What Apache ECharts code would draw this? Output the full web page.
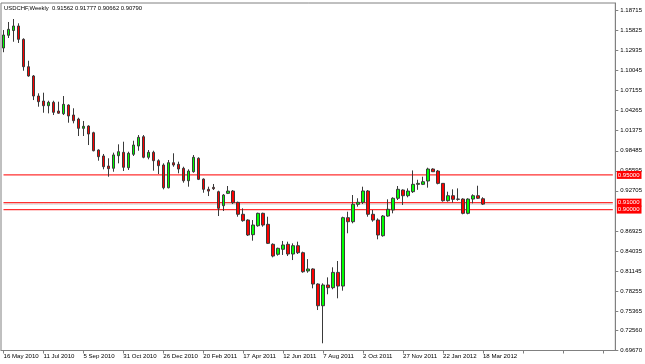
<!DOCTYPE html>
<html>
<head>
<meta charset="utf-8">
<script src="https://cdn.jsdelivr.net/npm/echarts@6/dist/echarts.min.js"></script>
<style>html,body{margin:0;padding:0;background:#fff}#c{width:645px;height:364px}</style>
</head>
<body>
<div id="c"></div>
<script>
const symbolTitle = 'USDCHF,Weekly  0.91562 0.91777 0.90662 0.90790';
const firstWeek = '2010-05-16';
const opens = [1.1331,1.1514,1.1583,1.1648,1.1456,1.1061,1.0927,1.0638,1.0566,1.0498,1.0547,1.0422,1.0383,1.0508,1.0364,1.0306,1.0172,1.0205,1.0109,0.9859,0.9773,0.9628,0.9596,0.9777,0.9826,0.9604,0.9797,0.9917,1.0051,0.9754,0.9826,0.9705,0.9643,0.9315,0.9676,0.9653,0.9595,0.9416,0.9546,0.9740,0.9440,0.9292,0.9320,0.9258,0.9056,0.9234,0.9267,0.9104,0.8932,0.8849,0.8638,0.8767,0.8946,0.8787,0.8499,0.8355,0.8427,0.8499,0.8359,0.8479,0.8378,0.8114,0.8143,0.7926,0.7613,0.7912,0.7873,0.8094,0.7897,0.8883,0.8825,0.9076,0.9105,0.9268,0.8932,0.8849,0.8623,0.8907,0.8994,0.9163,0.9282,0.9200,0.9258,0.9364,0.9364,0.9412,0.9585,0.9556,0.9378,0.9128,0.9200,0.9152,0.9152,0.8946,0.9152,0.9200,0.91562];
const highs = [1.1590,1.1706,1.1749,1.1687,1.1471,1.1147,1.0941,1.0677,1.0686,1.0570,1.0570,1.0556,1.0638,1.0518,1.0461,1.0325,1.0278,1.0215,1.0123,0.9869,0.9802,0.9740,0.9821,0.9941,0.9979,0.9835,0.9993,1.0075,1.0075,0.9859,0.9849,0.9725,0.9667,0.9715,0.9812,0.9691,0.9618,0.9581,0.9787,0.9754,0.9450,0.9330,0.9369,0.9272,0.9224,0.9340,0.9282,0.9114,0.9018,0.8859,0.8849,0.8955,0.8955,0.8897,0.8513,0.8450,0.8547,0.8537,0.8513,0.8537,0.8393,0.8286,0.8153,0.7936,0.7936,0.8022,0.8167,0.8258,0.8897,0.8969,0.9210,0.9163,0.9330,0.9282,0.8994,0.8873,0.8921,0.9148,0.9177,0.9340,0.9292,0.9306,0.9565,0.9430,0.9474,0.9604,0.9595,0.9571,0.9378,0.9258,0.9292,0.9306,0.9163,0.9163,0.9220,0.9344,0.91777];
const lows = [1.1270,1.1475,1.1421,1.1403,1.1003,1.0917,1.0580,1.0484,1.0397,1.0388,1.0364,1.0383,1.0364,1.0253,1.0244,1.0061,1.0061,0.9931,0.9840,0.9705,0.9581,0.9474,0.9546,0.9667,0.9556,0.9571,0.9773,0.9849,0.9740,0.9725,0.9561,0.9513,0.9292,0.9306,0.9618,0.9523,0.9388,0.9330,0.9532,0.9426,0.9243,0.9195,0.9282,0.8907,0.8979,0.9224,0.9080,0.8897,0.8825,0.8619,0.8551,0.8753,0.8753,0.8503,0.8311,0.8335,0.8345,0.8330,0.8272,0.8359,0.8089,0.8089,0.7864,0.7551,0.7071,0.7778,0.7850,0.7720,0.7830,0.8658,0.8802,0.9042,0.9080,0.8897,0.8825,0.8571,0.8609,0.8897,0.8946,0.9138,0.9066,0.9177,0.9240,0.9285,0.9354,0.9316,0.9546,0.9364,0.9114,0.9114,0.9100,0.9128,0.8932,0.8932,0.9090,0.9152,0.90662];
const closes = [1.1518,1.1600,1.1648,1.1456,1.1061,1.0927,1.0638,1.0556,1.0498,1.0547,1.0403,1.0390,1.0518,1.0350,1.0282,1.0172,1.0201,1.0090,0.9849,0.9763,0.9618,0.9590,0.9788,0.9835,0.9610,0.9812,0.9931,1.0042,0.9754,0.9826,0.9705,0.9633,0.9315,0.9676,0.9643,0.9585,0.9416,0.9556,0.9754,0.9436,0.9292,0.9267,0.9301,0.9018,0.9210,0.9267,0.9099,0.8932,0.8840,0.8633,0.8777,0.8946,0.8777,0.8513,0.8330,0.8441,0.8489,0.8359,0.8479,0.8378,0.8103,0.8143,0.7926,0.7613,0.7912,0.7873,0.8094,0.7897,0.8883,0.8825,0.9076,0.9105,0.9268,0.8932,0.8849,0.8633,0.8907,0.9004,0.9163,0.9292,0.9200,0.9267,0.9364,0.9378,0.9402,0.9585,0.9546,0.9378,0.9128,0.9200,0.9148,0.9148,0.8946,0.9152,0.9200,0.9163,0.90790];
const levels = [0.95, 0.91, 0.90];
const bidPrice = 0.90790;
const yTickLabels = [1.18715,1.15825,1.12935,1.10045,1.07155,1.04265,1.01375,0.98485,0.95595,0.92705,0.86925,0.84035,0.81145,0.78255,0.75365,0.72560,0.69670];

const MONTHS = ['Jan','Feb','Mar','Apr','May','Jun','Jul','Aug','Sep','Oct','Nov','Dec'];
const start = new Date(firstWeek + 'T00:00:00Z');
const categories = [];
const TOTAL_SLOTS = 123;
for (let i = 0; i < TOTAL_SLOTS; i++) {
  const d = new Date(start.getTime() + i * 7 * 86400000);
  categories.push(i < opens.length ? (d.getUTCDate() + ' ' + MONTHS[d.getUTCMonth()] + ' ' + d.getUTCFullYear()) : '');
}
const candles = opens.map((o, i) => [o, closes[i], lows[i], highs[i]]);

const FONT = 'Liberation Sans';
function levelSeries(v, color, width, withLabel) {
  return {
    type: 'line', silent: true, z: 1,
    data: categories.map(() => v),
    symbol: 'none', showSymbol: false,
    lineStyle: {color: color, width: width, type: 'solid', opacity: 1},
    itemStyle: {color: color},
    emphasis: {disabled: true},
    endLabel: withLabel ? {show: true, distance: 4, formatter: () => v.toFixed(5),
      backgroundColor: '#ff0000', color: '#ffffff', fontSize: 6, fontFamily: FONT, padding: [1, 2, 1, 1]} : {show: false}
  };
}
const chart = echarts.init(document.getElementById('c'), null, {renderer: 'canvas'});
chart.setOption({
  animation: false,
  backgroundColor: '#ffffff',
  title: {
    text: symbolTitle, left: 4, top: 5, padding: 0,
    textStyle: {fontSize: 5.9, fontWeight: 'normal', color: '#000', fontFamily: FONT}
  },
  grid: {left: 1, right: 29, top: 3, bottom: 13.5, show: true, borderColor: '#808080', borderWidth: 1},
  xAxis: {
    type: 'category', data: categories, boundaryGap: true,
    axisLine: {show: true, lineStyle: {color: '#808080'}},
    axisTick: {show: true, interval: 7, alignWithLabel: true, length: 3, lineStyle: {color: '#808080'}},
    axisLabel: {interval: 7, align: 'left', margin: 3, fontSize: 6.1, color: '#000', fontFamily: FONT},
    splitLine: {show: false}
  },
  yAxis: {
    type: 'value', position: 'right', min: 0.6967, max: 1.198,
    axisLine: {show: true, lineStyle: {color: '#808080'}},
    axisTick: {show: true, customValues: yTickLabels, length: 3, lineStyle: {color: '#808080'}},
    axisLabel: {customValues: yTickLabels, margin: 5, fontSize: 6, color: '#000', fontFamily: FONT,
      formatter: v => v.toFixed(5)},
    splitLine: {show: false}
  },
  series: [
    levelSeries(bidPrice, '#d0d0d0', 1, false),
    ...levels.map(v => levelSeries(v, '#ff3030', 1.2, true)),
    {
      type: 'candlestick',
      data: candles,
      barWidth: 3,
      z: 3,
      itemStyle: {color: '#00ff00', color0: '#ff0000', borderColor: '#3a3a3a', borderColor0: '#3a3a3a', borderWidth: 1}
    }
  ]
});
</script>
</body>
</html>
